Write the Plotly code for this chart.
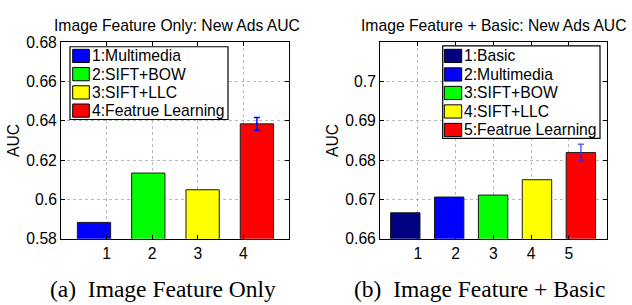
import plotly.graph_objects as go

W, H = 632, 305

# ---------------- data ----------------
left_methods = ["Multimedia", "SIFT+BOW", "SIFT+LLC", "Featrue Learning"]
left_auc = [0.5883, 0.6134, 0.6049, 0.6384]
left_err = [0, 0, 0, 0.0032]
left_colors = ["#0000FF", "#00FF00", "#FFFF00", "#FF0000"]
left_xticks = [1, 2, 3, 4]
left_yticks = [0.58, 0.60, 0.62, 0.64, 0.66, 0.68]
left_ytext = ["0.58", "0.6", "0.62", "0.64", "0.66", "0.68"]

right_methods = ["Basic", "Multimedia", "SIFT+BOW", "SIFT+LLC", "Featrue Learning"]
right_auc = [0.6666, 0.6706, 0.6711, 0.6750, 0.6819]
right_err = [0, 0, 0, 0, 0.0021]
right_colors = ["#000080", "#0000FF", "#00FF00", "#FFFF00", "#FF0000"]
right_xticks = [1, 2, 3, 4, 5]
right_yticks = [0.66, 0.67, 0.68, 0.69, 0.70]
right_ytext = ["0.66", "0.67", "0.68", "0.69", "0.7"]

FONT = "Liberation Sans, Arial, sans-serif"
SERIF = "Liberation Serif, Times New Roman, serif"
FS = 15.7


def px(x):
    return x / W


def py(y):
    return 1 - y / H


fig = go.Figure()

# dummy traces so the tick/grid axes exist
fig.add_trace(go.Scatter(x=[], y=[], xaxis="x", yaxis="y", showlegend=False, hoverinfo="skip"))
fig.add_trace(go.Scatter(x=[], y=[], xaxis="x2", yaxis="y2", showlegend=False, hoverinfo="skip"))


def add_bars(methods, vals, errs, colors, xa, ya, width, errcolor):
    for i, (m, v, e, c) in enumerate(zip(methods, vals, errs, colors)):
        fig.add_trace(go.Bar(
            x=[m], y=[v], name=f"{i+1}:{m}",
            xaxis=xa, yaxis=ya, width=width, showlegend=False,
            marker=dict(color=c, line=dict(color="#1a1a1a", width=1)),
            error_y=dict(type="data", array=[e], visible=e > 0,
                         color=errcolor, thickness=1.5, width=3),
        ))


add_bars(left_methods, left_auc, left_err, left_colors, "x3", "y", 0.613, "#0000FF")
add_bars(right_methods, right_auc, right_err, right_colors, "x4", "y2", 0.67,
         "rgba(40,40,255,0.75)")

ytop = py(35)
ybot = py(243.3)

common_axis = dict(
    showline=True, linecolor="black", linewidth=1, mirror="ticks",
    ticks="inside", ticklen=4, tickcolor="black",
    showgrid=True, gridcolor="#b8b8b8", griddash="dot", gridwidth=1,
    zeroline=False, tickfont=dict(family=FONT, size=FS, color="black"),
)

fig.update_layout(
    width=W, height=H,
    margin=dict(l=0, r=0, t=0, b=0),
    paper_bgcolor="white", plot_bgcolor="white",
    barmode="overlay", showlegend=False,
    font=dict(family=FONT, size=FS, color="black"),
    xaxis=dict(domain=[px(61), px(289)], anchor="y", range=[0, 5],
               tickvals=left_xticks, ticktext=[str(t) for t in left_xticks], **common_axis),
    yaxis=dict(domain=[ybot, ytop], anchor="x", range=[0.58, 0.68],
               tickvals=left_yticks, ticktext=left_ytext,
               title=dict(text="AUC", standoff=2, font=dict(family=FONT, size=FS)),
               **common_axis),
    xaxis3=dict(overlaying="x", anchor="y", type="category", range=[-0.608, 3.591],
                visible=False),
    xaxis2=dict(domain=[px(380), px(606.7)], anchor="y2", range=[0, 6],
                tickvals=right_xticks, ticktext=[str(t) for t in right_xticks], **common_axis),
    yaxis2=dict(domain=[ybot, ytop], anchor="x2", range=[0.66, 0.71],
                tickvals=right_yticks, ticktext=right_ytext,
                title=dict(text="AUC", standoff=2, font=dict(family=FONT, size=FS)),
                **common_axis),
    xaxis4=dict(overlaying="x2", anchor="y2", type="category", range=[-0.576, 4.588],
                visible=False),
)

shapes = []
annotations = []


def add_legend(methods, colors, box, sw_x, text_x, row0, pitch):
    bx0, by0, bx1, by1 = box
    shapes.append(dict(type="rect", xref="paper", yref="paper",
                       x0=px(bx0), x1=px(bx1), y0=py(by1), y1=py(by0),
                       line=dict(color="black", width=1.2), fillcolor="white", layer="above"))
    for i, (m, c) in enumerate(zip(methods, colors)):
        cy = row0 + pitch * i
        shapes.append(dict(type="rect", xref="paper", yref="paper",
                           x0=px(sw_x[0]), x1=px(sw_x[1]), y0=py(cy + 7), y1=py(cy - 7),
                           line=dict(color="black", width=1), fillcolor=c, layer="above"))
        annotations.append(dict(text=f"{i+1}:{m}", x=px(text_x), y=py(cy),
                                xref="paper", yref="paper", showarrow=False,
                                xanchor="left", yanchor="middle",
                                font=dict(family=FONT, size=FS, color="black")))


add_legend(left_methods, left_colors, (70, 40, 228, 117), (72.7, 89.3), 90, 49.7, 19.3)
add_legend(right_methods, right_colors, (442.7, 39, 600, 137), (444.3, 461.7), 461.5, 49.7, 19.6)

annotations += [
    dict(text="Image Feature Only: New Ads AUC", x=px(177), y=py(18),
         xref="paper", yref="paper", showarrow=False, xanchor="center", yanchor="middle",
         font=dict(family=FONT, size=FS, color="black")),
    dict(text="Image Feature + Basic: New Ads AUC", x=px(494), y=py(18),
         xref="paper", yref="paper", showarrow=False, xanchor="center", yanchor="middle",
         font=dict(family=FONT, size=FS, color="black")),
    dict(text="(a)\u00a0 Image Feature Only", x=px(162.5), y=py(297),
         xref="paper", yref="paper", showarrow=False, xanchor="center", yanchor="middle",
         font=dict(family=SERIF, size=23.5, color="black")),
    dict(text="(b)\u00a0 Image Feature + Basic", x=px(479), y=py(297),
         xref="paper", yref="paper", showarrow=False, xanchor="center", yanchor="middle",
         font=dict(family=SERIF, size=23.5, color="black")),
]
fig.update_layout(shapes=shapes, annotations=annotations)

fig.write_html("out.html",
               config={"displayModeBar": False, "staticPlot": True},
               post_script="document.body.style.margin='0';document.body.style.overflow='hidden';")
